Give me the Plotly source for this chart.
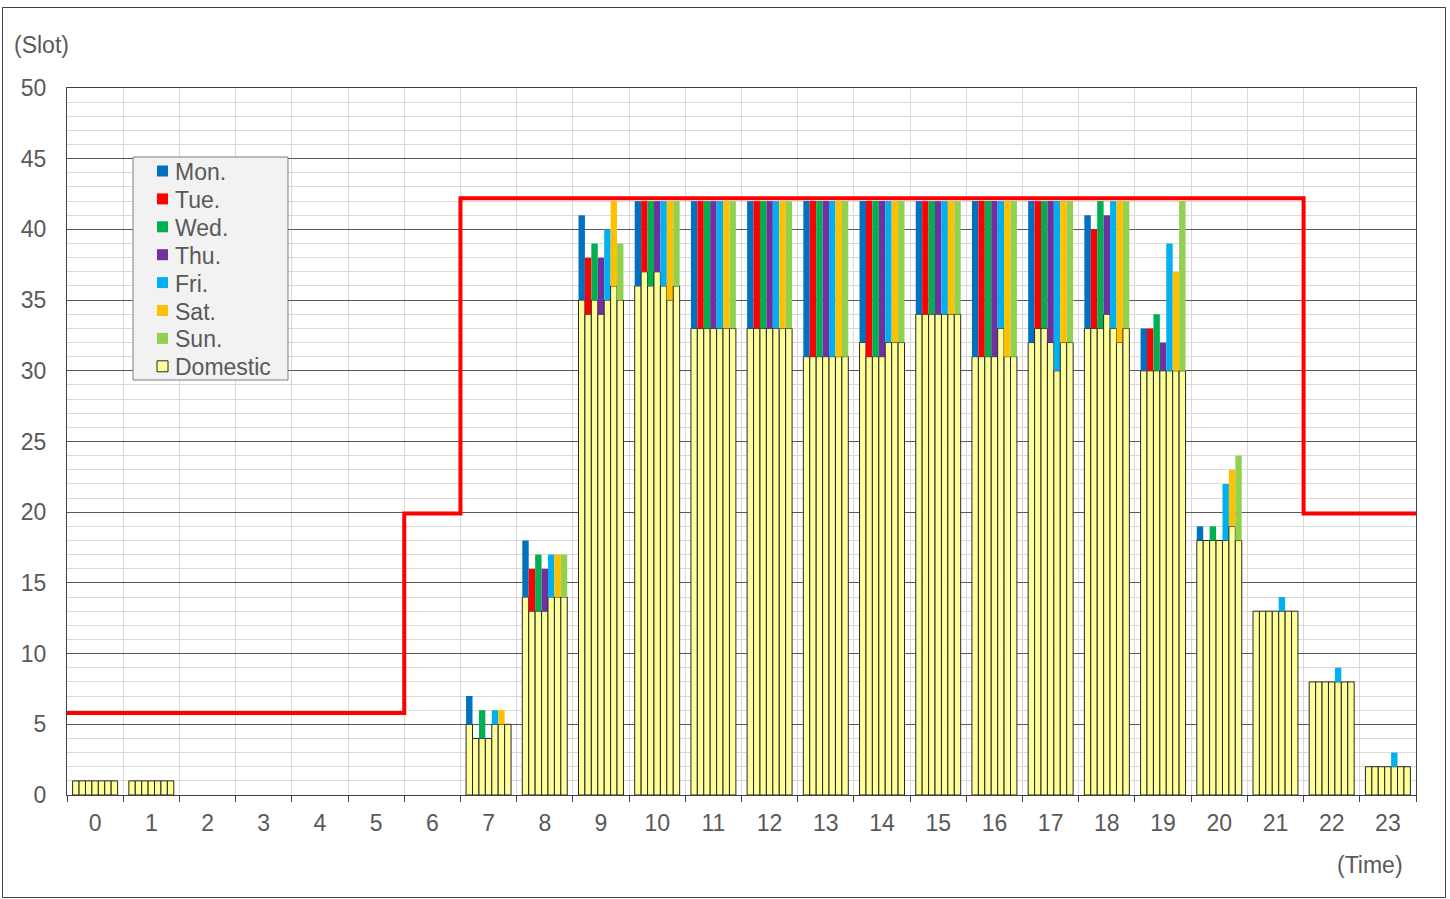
import plotly.graph_objects as go

hours = list(range(24))
days = ["Mon.", "Tue.", "Wed.", "Thu.", "Fri.", "Sat.", "Sun."]
day_colors = ["#0070C0", "#FF0000", "#00B050", "#7030A0", "#00B0F0", "#FFC000", "#92D050"]

# Domestic slots per day
dom_mon = [1, 1, 0, 0, 0, 0, 0, 5, 14, 35, 36, 33, 33, 31, 32, 34, 31, 32, 33, 30, 18, 13, 8, 2]
dom_tue = [1, 1, 0, 0, 0, 0, 0, 4, 13, 34, 37, 33, 33, 31, 31, 34, 31, 33, 33, 30, 18, 13, 8, 2]
dom_wed = [1, 1, 0, 0, 0, 0, 0, 4, 13, 35, 36, 33, 33, 31, 31, 34, 31, 33, 33, 30, 18, 13, 8, 2]
dom_thu = [1, 1, 0, 0, 0, 0, 0, 4, 13, 34, 37, 33, 33, 31, 31, 34, 31, 32, 34, 30, 18, 13, 8, 2]
dom_fri = [1, 1, 0, 0, 0, 0, 0, 5, 14, 35, 36, 33, 33, 31, 32, 34, 33, 30, 33, 30, 18, 13, 8, 2]
dom_sat = [1, 1, 0, 0, 0, 0, 0, 5, 14, 36, 35, 33, 33, 31, 32, 34, 31, 32, 32, 30, 19, 13, 8, 2]
dom_sun = [1, 1, 0, 0, 0, 0, 0, 5, 14, 35, 36, 33, 33, 31, 32, 34, 31, 32, 33, 30, 18, 13, 8, 2]

# Total slots per day
tot_mon = [1, 1, 0, 0, 0, 0, 0, 7, 18, 41, 42, 42, 42, 42, 42, 42, 42, 42, 41, 33, 19, 13, 8, 2]
tot_tue = [1, 1, 0, 0, 0, 0, 0, 4, 16, 38, 42, 42, 42, 42, 42, 42, 42, 42, 40, 33, 18, 13, 8, 2]
tot_wed = [1, 1, 0, 0, 0, 0, 0, 6, 17, 39, 42, 42, 42, 42, 42, 42, 42, 42, 42, 34, 19, 13, 8, 2]
tot_thu = [1, 1, 0, 0, 0, 0, 0, 4, 16, 38, 42, 42, 42, 42, 42, 42, 42, 42, 41, 32, 18, 13, 8, 2]
tot_fri = [1, 1, 0, 0, 0, 0, 0, 6, 17, 40, 42, 42, 42, 42, 42, 42, 42, 42, 42, 39, 22, 14, 9, 3]
tot_sat = [1, 1, 0, 0, 0, 0, 0, 6, 17, 42, 42, 42, 42, 42, 42, 42, 42, 42, 42, 37, 23, 13, 8, 2]
tot_sun = [1, 1, 0, 0, 0, 0, 0, 5, 17, 39, 42, 42, 42, 42, 42, 42, 42, 42, 42, 42, 24, 13, 8, 2]

# Capacity (red step line)
capacity = [5.8, 5.8, 5.8, 5.8, 5.8, 5.8, 19.9, 42.2, 42.2, 42.2, 42.2, 42.2, 42.2, 42.2, 42.2,
            42.2, 42.2, 42.2, 42.2, 42.2, 42.2, 42.2, 19.9, 19.9]

domestic = [dom_mon, dom_tue, dom_wed, dom_thu, dom_fri, dom_sat, dom_sun]
totals = [tot_mon, tot_tue, tot_wed, tot_thu, tot_fri, tot_sat, tot_sun]

FONT = "Liberation Sans, Arial, sans-serif"
TXT = "#595959"
FS = 23
DOM_COLOR = "#FFFF99"
DOM_EDGE = "#262626"

fig = go.Figure()

for i, day in enumerate(days):
    dom = domestic[i]
    intl = [t - d for t, d in zip(totals[i], dom)]
    fig.add_trace(go.Bar(
        x=hours, y=[v if v else None for v in dom], offsetgroup=str(i), name="Domestic",
        marker=dict(color=DOM_COLOR, line=dict(color=DOM_EDGE, width=1)),
        showlegend=False, hoverinfo="skip",
    ))
    fig.add_trace(go.Bar(
        x=hours, y=intl, base=dom, offsetgroup=str(i), name=day,
        marker=dict(color=day_colors[i], line=dict(width=0)),
        showlegend=False,
    ))

step_x = [h - 0.5 for h in hours] + [hours[-1] + 0.5]
step_y = capacity + [capacity[-1]]
fig.add_trace(go.Scatter(
    x=step_x, y=step_y, mode="lines", line=dict(color="#FF0000", width=4, shape="hv"),
    showlegend=False, hoverinfo="skip",
))

W, H = 1450, 899
L, R, T, B = 67, 1416, 88, 795
pw, ph = R - L, B - T


def px(x):
    return (x - L) / pw


def py(y):
    return (B - y) / ph


shapes = [
    dict(type="rect", xref="paper", yref="paper", x0=px(2.5), x1=px(1445.5), y0=py(897.5), y1=py(7.5),
         line=dict(color="#404040", width=1), fillcolor="rgba(0,0,0,0)", layer="below"),
    # legend box
    dict(type="rect", xref="paper", yref="paper", x0=px(133), x1=px(288), y0=py(380), y1=py(157),
         line=dict(color="#7F7F7F", width=1), fillcolor="#F2F2F2", layer="above"),
]
annotations = [
    dict(text="(Slot)", x=px(12), y=py(45), xref="paper", yref="paper",
         xanchor="left", yanchor="middle", showarrow=False,
         font=dict(family=FONT, size=FS, color=TXT)),
    dict(text="(Time)", x=px(1405), y=py(865), xref="paper", yref="paper",
         xanchor="right", yanchor="middle", showarrow=False,
         font=dict(family=FONT, size=FS, color=TXT)),
]

legend_names = days + ["Domestic"]
legend_colors = day_colors + [DOM_COLOR]
for k, (nm, col) in enumerate(zip(legend_names, legend_colors)):
    cy = 171 + k * 27.9
    edge = dict(color=DOM_EDGE, width=1) if nm == "Domestic" else dict(width=0)
    shapes.append(dict(type="rect", xref="paper", yref="paper",
                       x0=px(157), x1=px(168), y0=py(cy + 5.5), y1=py(cy - 5.5),
                       fillcolor=col, line=edge, layer="above"))
    annotations.append(dict(text=nm, x=px(173), y=py(cy + 1), xref="paper", yref="paper",
                            xanchor="left", yanchor="middle", showarrow=False,
                            font=dict(family=FONT, size=FS, color=TXT)))

fig.update_layout(
    width=W, height=H,
    margin=dict(l=L, r=W - R, t=T, b=H - B),
    paper_bgcolor="white", plot_bgcolor="white",
    barmode="group", bargap=0.2, bargroupgap=0,
    font=dict(family=FONT, size=FS, color=TXT),
    showlegend=False,
    xaxis=dict(
        range=[-0.5, 23.5], tickmode="array", tickvals=hours, ticktext=[str(h) for h in hours],
        showgrid=False, ticks="", ticklabelstandoff=7,
        showline=True, linecolor="#404040", linewidth=1, mirror=True,
        minor=dict(tick0=-0.5, dtick=1, showgrid=True, gridcolor="#D9D9D9", gridwidth=1,
                   ticks="outside", ticklen=6, tickcolor="#404040"),
        zeroline=False, fixedrange=True,
    ),
    yaxis=dict(
        range=[0, 50], dtick=5, showgrid=True, gridcolor="#595959", gridwidth=1,
        ticks="", ticklabelstandoff=15,
        showline=True, linecolor="#404040", linewidth=1, mirror=True,
        minor=dict(dtick=1, showgrid=True, gridcolor="#D9D9D9", gridwidth=1),
        zeroline=False, fixedrange=True,
    ),
    annotations=annotations,
    shapes=shapes,
)

fig.write_html(
    "out.html",
    config={"displayModeBar": False},
    post_script="document.body.style.margin='0';document.body.style.overflow='hidden';",
)
